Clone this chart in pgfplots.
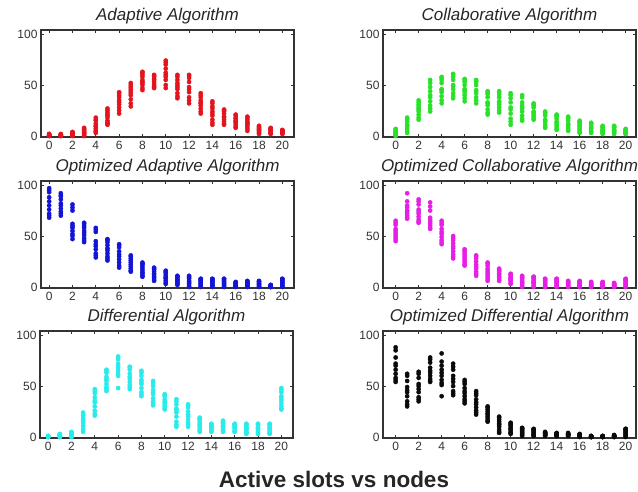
\documentclass[border=0pt]{standalone}
\usepackage{fontspec}
\setmainfont{Liberation Sans}
\usepackage{pgfplots}
\usepackage{pgfplotstable}
\pgfplotsset{compat=1.18}

\definecolor{cR}{RGB}{228,20,30}
\definecolor{cG}{RGB}{40,225,40}
\definecolor{cB}{RGB}{20,20,215}
\definecolor{cM}{RGB}{230,30,230}
\definecolor{cC}{RGB}{40,235,235}
\definecolor{cK}{RGB}{10,10,10}

\pgfplotstableread{
x a b c d e f g h i j
0 0 1 0.5 2 1 0 1.5 0.5 1 2
1 0 1 2 0.5 1.5 1 0 1 0.5 1.5
2 0 2 4 1 3 2.5 1 0.5 3.5 2
3 0 3 8 5 2 6 4 1 7 3
4 3 7 18 12 9 15 5 4 10 16
5 11 15 27 20 23 13 18 12 21 25
6 22 28 43 35 38 31 40 25 33 42
7 29 36 52 44 48 40 46 32 42 50
8 45 50 63 55 58 52 60 47 53 62
9 47 51 60 55 58 49 53 48 56 59
10 47 55 74 62 66 58 70 50 60 72
11 37 42 60 50 55 46 52 39 48 58
12 32 38 60 48 53 43 57 35 46 59
13 22 27 42 33 38 30 35 24 32 40
14 11 16 34 24 29 20 27 13 22 32
15 11 14 26 19 22 16 24 12 18 25
16 8 11 21 15 18 13 17 9 14 20
17 5 9 19 13 16 11 14 7 12 18
18 2 4 10 6 8 5 7 3 6 9
19 2 3 8 5 6 4 7 2.5 5 7.5
20 2 3 6 4 5 3 4 2.5 4 5.5
}\tabA

\pgfplotstableread{
x a b c d e f g h i j
0 0 2 7 4 1 5 3 1 3 6
1 3 7 18 11 14 9 16 5 10 17
2 16 21 35 27 31 24 29 18 26 33
3 24 30 55 38 44 34 48 27 40 52
4 32 39 58 46 52 43 55 35 45 57
5 37 42 61 50 55 46 58 39 49 60
6 34 40 56 46 50 43 53 37 45 55
7 32 38 55 45 50 42 53 35 44 54
8 21 26 44 33 38 30 41 23 32 43
9 23 28 44 34 38 31 41 25 33 43
10 11 17 42 26 33 22 37 14 28 40
11 15 20 40 28 33 24 30 17 27 38
12 16 19 32 24 28 21 30 17 23 31
13 8 11 24 16 20 14 22 9 15 23
14 6 9 21 13 17 11 19 7 14 20
15 5 8 19 12 15 10 17 6 11 18
16 3 6 15 9 12 7 13 4 10 14
17 3 5 13 8 10 7 12 4 8 12
18 2 4 10 6 8 5 9 3 6 9
19 2 4 10 6 8 5 9 3 6 9
20 2 3 7 4 5 3 6 2 4 6
}\tabB

\pgfplotstableread{
x a b c d e f g h i j
0 68 72 97 80 88 76 93 70 84 95
1 70 74 92 80 86 77 89 72 82 90
2 47 52 81 58 62 55 75 50 60 78
3 44 48 63 53 58 51 60 46 55 62
4 29 33 58 40 45 37 54 31 42 56
5 26 30 47 36 41 33 44 28 38 46
6 19 24 42 30 35 27 39 21 32 41
7 15 18 31 22 26 20 28 16 24 30
8 10 13 24 16 20 14 22 11 18 23
9 6 9 19 12 15 10 17 7 13 18
10 3 6 16 9 12 8 14 4 10 15
11 2 4 11 6 8 5 10 3 7 10
12 0 3 11 5 8 4 9 1 6 10
13 0 2 8 4 6 3 7 1 5 8
14 0 2 8 4 6 3 7 1 5 8
15 0 2 8 4 6 3 7 1 5 8
16 0 1 5 2 4 2 3 0.5 3 4.5
17 0 1 6 3 4 2 5 0.5 3 5.5
18 0 1 6 3 4 2 5 0.5 3 5.5
19 0 0.5 2 1 1.5 1 0 0 1 2
20 0 2 8 4 6 3 7 1 5 8
}\tabC

\pgfplotstableread{
x a b c d e f g h i j
0 45 49 65 53 57 51 61 47 55 63
1 67 70 92 74 78 72 84 68 75 80
2 63 66 86 72 76 69 81 64 74 84
3 57 60 83 64 68 62 75 58 66 79
4 42 46 65 52 57 49 61 44 54 63
5 28 32 50 38 43 35 46 30 40 48
6 21 24 37 28 32 26 34 22 30 36
7 11 15 31 20 25 18 28 13 22 30
8 6 10 24 14 18 12 21 8 16 23
9 6 9 18 12 15 10 16 7 13 17
10 3 6 13 8 10 7 12 4 9 12.5
11 0 3 11 5 8 4 9 1 6 10
12 0 3 10 5 8 4 9 1 6 10
13 0 2 8 4 6 3 7 1 5 8
14 0 2 8 4 6 3 7 1 5 8
15 0 1 6 3 4 2 5 0.5 3.5 5.5
16 0 1 6 3 4 2 5 0.5 3.5 5.5
17 0 1 5 2 3 2 4 0.5 2.5 4.5
18 0 1 5 2 3 2 4 0.5 2.5 4.5
19 0 1 4 2 3 1 2 0.5 2.5 3.5
20 0 2 8 4 6 3 7 1 5 8
}\tabD

\pgfplotstableread{
x a b c d e f g h i j
0 0 0.5 1 0 0.5 1 0 0.5 0 1
1 0 1 3 2 1 2 0 0.5 1.5 2.5
2 0 1 5 3 2 4 1 0.5 2.5 4.5
3 5 8 24 14 18 11 21 6 16 22
4 21 26 47 34 39 30 43 23 36 45
5 45 49 66 55 59 52 63 47 57 65
6 48 62 79 68 72 65 76 60 70 78
7 47 51 69 57 62 54 66 49 59 68
8 40 44 65 52 56 48 60 42 54 63
9 31 35 55 42 46 38 50 33 44 53
10 27 30 42 34 37 32 40 28 35 41
11 10 15 37 24 28 20 32 12 26 35
12 10 14 32 20 25 17 29 12 22 31
13 5 8 19 12 15 10 17 6 13 18
14 5 6 13 9 11 8 12 5.5 10 12.5
15 5 7 16 10 13 9 14 6 11 15
16 5 6 13 9 11 8 12 5.5 10 12.5
17 3 5 13 8 10 7 12 4 9 12.5
18 3 5 13 8 10 7 12 4 9 12.5
19 3 5 13 8 10 7 12 4 9 12.5
20 27 30 48 36 40 33 44 28 38 46
}\tabE

\pgfplotstableread{
x a b c d e f g h i j
0 54 58 88 66 72 62 78 56 70 85
1 30 35 62 44 49 40 55 32 46 60
2 35 39 64 47 52 44 58 37 50 62
3 54 57 78 63 68 60 73 55 65 76
4 40 51 82 60 66 56 74 53 63 70
5 41 45 72 54 60 50 66 43 57 69
6 33 37 56 43 48 40 52 35 45 54
7 22 26 45 32 37 29 41 24 34 43
8 15 18 30 22 25 20 27 16 23 29
9 4 7 20 12 15 10 17 5 13 19
10 3 5 14 8 11 7 12 4 9 13
11 1 3 9 5 7 4 8 2 6 8.5
12 1 2 8 4 6 3 7 1.5 5 7.5
13 1 2 5 3 4 2 4 1.5 3 4.5
14 1 2 4 2 3 1 3 1.5 2.5 3.5
15 1 2 4 3 2 1 3 1.5 2.5 3.5
16 0 1 3 2 1 0.5 2 0.5 1.5 2.5
17 0 0.5 1 0 0.5 1 0 0 0.5 1
18 0 0.5 1 0 0.5 1 0 0 0.5 1
19 0 1 2 1 0.5 1.5 0 0.5 1 1.5
20 0 2 8 4 6 3 7 1 5 8
}\tabF

\pgfplotsset{
  sub/.style={
    anchor=south west, scale only axis,
    width=253pt, height=107pt,
    ymin=-1, ymax=104,
    xtick={0,2,...,20}, ytick={0,50,100},
    tick align=inside,
    major tick length=3pt,
    axis line style={line width=1.2pt, black!80},
    tick style={black!80, line width=0.6pt},
    tick label style={font=\fontsize{12}{14}\selectfont, black!80},
    /pgf/number format/assume math mode=true,
    title style={font=\fontsize{17}{19}\selectfont\itshape, yshift=-4pt, black!85},
    xticklabel style={yshift=-1pt},
  },
  left/.style={xmin=-0.7, xmax=21},
  right/.style={xmin=-1.1, xmax=20.9},
  pts/.style={only marks, mark=*, mark size=2.1pt, color=#1, mark options={draw=none, fill=#1}},
}

\newcommand{\drawtab}[2]{%
  \pgfplotsinvokeforeach{a,b,c,d,e,f,g,h,i,j}{\addplot[pts=#2] table[x=x,y=##1]{#1};}%
}

\begin{document}
\begin{tikzpicture}
\useasboundingbox (0,0) rectangle (638pt,-491pt);

\begin{axis}[sub, left, at={(41pt,-137pt)}, title={Adaptive Algorithm}]
\drawtab{\tabA}{cR}
\end{axis}

\begin{axis}[sub, right, at={(383pt,-137pt)}, title={Collaborative Algorithm}]
\drawtab{\tabB}{cG}
\end{axis}

\begin{axis}[sub, left, at={(41pt,-288pt)}, title={Optimized Adaptive Algorithm}]
\drawtab{\tabC}{cB}
\end{axis}

\begin{axis}[sub, right, at={(383pt,-288pt)}, title={Optimized Collaborative Algorithm}]
\drawtab{\tabD}{cM}
\end{axis}

\begin{axis}[sub, left, at={(40pt,-438pt)}, title={Differential Algorithm}]
\drawtab{\tabE}{cC}
\end{axis}

\begin{axis}[sub, right, at={(383pt,-438pt)}, title={Optimized Differential Algorithm}]
\drawtab{\tabF}{cK}
\end{axis}

\node[font=\fontsize{22.5}{25}\selectfont\bfseries, black!85] at (334pt,-479pt) {Active slots vs nodes};
\end{tikzpicture}
\end{document}
